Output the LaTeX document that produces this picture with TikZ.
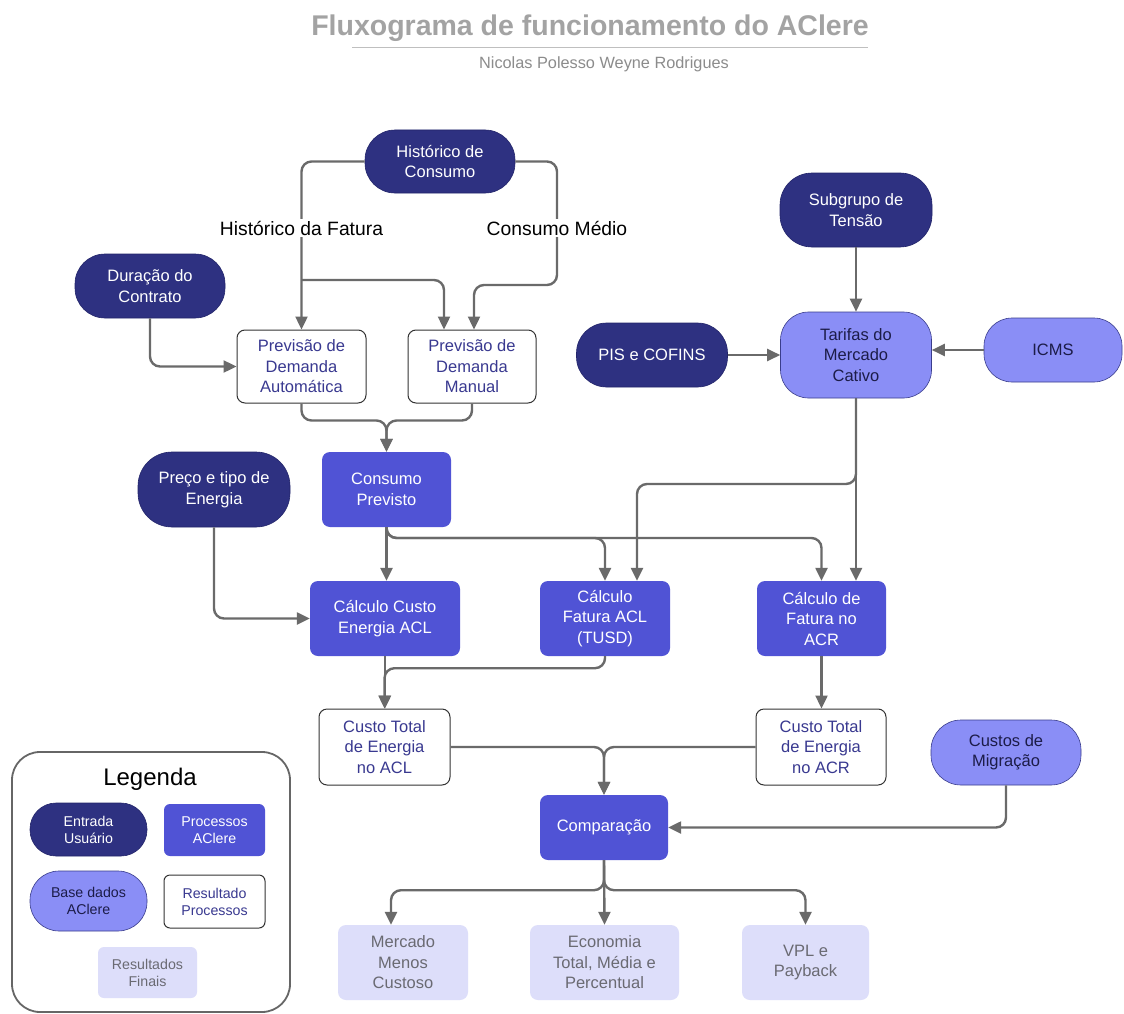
\documentclass[tikz,border=0pt]{standalone}
\usepackage{fontspec}
\setmainfont{Liberation Sans}
\usetikzlibrary{arrows.meta,calc}
\definecolor{navy}{HTML}{2E3181}
\definecolor{navyedge}{HTML}{23256A}
\definecolor{procblue}{HTML}{5053D5}
\definecolor{dbblue}{HTML}{8A8EF6}
\definecolor{dbedge}{HTML}{3A3D8C}
\definecolor{finfill}{HTML}{DDDEFA}
\definecolor{fintext}{HTML}{6A6A72}
\definecolor{arrgray}{HTML}{6A6A6A}
\definecolor{restext}{HTML}{393990}
\definecolor{dbtext}{HTML}{1C1C48}
\definecolor{titlegray}{HTML}{A3A3A3}
\definecolor{subgray}{HTML}{8C8C8C}
\begin{document}
\begin{tikzpicture}[x=1pt,y=-1pt,
  nodefont/.style={font=\fontsize{16.5}{20.5}\selectfont},
  inp/.style={nodefont, draw=navyedge, line width=0.6pt, fill=navy, text=white, rounded corners=#1, align=center, inner sep=0pt},
  inp/.default=30pt,
  proc/.style={nodefont, fill=procblue, text=white, rounded corners=8pt, align=center, inner sep=0pt},
  db/.style={nodefont, draw=dbedge, line width=0.6pt, fill=dbblue, text=dbtext, rounded corners=#1, align=center, inner sep=0pt},
  db/.default=28pt,
  res/.style={nodefont, draw=black!80, line width=1pt, fill=white, text=restext, rounded corners=8pt, align=center, inner sep=0pt},
  fin/.style={nodefont, fill=finfill, text=fintext, rounded corners=8pt, align=center, inner sep=0pt},
  legfont/.style={font=\fontsize{14.2}{17}\selectfont},
  arr/.style={draw=arrgray, line width=2.4pt, rounded corners=10pt, -{Triangle[length=13pt,width=12pt]}},
  lbl/.style={fill=white, text=black, inner sep=2pt, font=\fontsize{19.3}{22}\selectfont}
]
\useasboundingbox (0,0) rectangle (1124,1014);
\fill[white] (0,0) rectangle (1124,1014);

% title
\node[text=titlegray, font=\bfseries\fontsize{28.5}{32}\selectfont] (title) at (590,28) {Fluxograma de funcionamento do AClere};
\draw[draw=black!25, line width=1pt] (352,48) -- (868,48);
\node[text=subgray, font=\fontsize{16.3}{18}\selectfont] (subtitle) at (604,64) {Nicolas Polesso Weyne Rodrigues};

% input nodes
\node[inp, minimum width=150pt, minimum height=63pt] (hist) at (440,161.5) {Histórico de\\Consumo};
\node[inp=32pt, minimum width=152pt, minimum height=74pt] (subg) at (856,210) {Subgrupo de\\Tensão};
\node[inp, minimum width=150pt, minimum height=64pt] (dur) at (150,286) {Duração do\\Contrato};
\node[inp, minimum width=151pt, minimum height=64pt] (pis) at (652,355) {PIS e COFINS};
\node[inp=34pt, minimum width=152pt, minimum height=75pt] (preco) at (214,489.5) {Preço e tipo de\\Energia};

% database nodes
\node[db, minimum width=151pt, minimum height=86pt] (tarif) at (856,355) {Tarifas do\\Mercado\\Cativo};
\node[db, minimum width=138pt, minimum height=64pt] (icms) at (1053,350) {ICMS};
\node[db=30pt, minimum width=150pt, minimum height=65pt] (migr) at (1006,752.5) {Custos de\\Migração};

% result nodes
\node[res, minimum width=129pt, minimum height=73pt] (auto) at (301.5,366.5) {Previsão de\\Demanda\\Automática};
\node[res, minimum width=128pt, minimum height=73pt] (manual) at (472,366.5) {Previsão de\\Demanda\\Manual};
\node[res, minimum width=131pt, minimum height=76pt] (ctacl) at (384.5,747) {Custo Total\\de Energia\\no ACL};
\node[res, minimum width=130pt, minimum height=76pt] (ctacr) at (821,747) {Custo Total\\de Energia\\no ACR};

% process nodes
\node[proc, minimum width=129pt, minimum height=75pt] (cons) at (386.5,489.5) {Consumo\\Previsto};
\node[proc, minimum width=150pt, minimum height=75pt] (calce) at (385,618.5) {Cálculo Custo\\Energia ACL};
\node[proc, minimum width=130pt, minimum height=75pt] (tusd) at (605,618.5) {Cálculo\\Fatura ACL\\(TUSD)};
\node[proc, minimum width=129pt, minimum height=75pt] (acr) at (821.5,618.5) {Cálculo de\\Fatura no\\ACR};
\node[proc, minimum width=128pt, minimum height=65pt] (comp) at (604,827.5) {Comparação};

% final nodes
\node[fin, minimum width=130pt, minimum height=75pt] (merc) at (403,962.5) {Mercado\\Menos\\Custoso};
\node[fin, minimum width=149pt, minimum height=75pt] (econ) at (604.5,962.5) {Economia\\Total, Média e\\Percentual};
\node[fin, minimum width=127pt, minimum height=75pt] (vpl) at (805.5,962.5) {VPL e\\Payback};

% connectors
\coordinate (fork1) at (301.5,280);
\coordinate (cmturn) at (557,285);
\draw[arr] (hist.west) -| (auto.north);
\draw[arr] (fork1) -| ([xshift=-28pt]manual.north);
\draw[arr] (hist.east) -| (cmturn) -| ([xshift=2pt]manual.north);
\node[lbl] (lblfat) at (301.5,228) {Histórico da Fatura};
\node[lbl] (lblmed) at (557,228) {Consumo Médio};

\draw[arr] (dur.south) |- (auto.west);
\draw[arr] (auto.south) -- ++(0,17) -| (cons.north);
\draw[arr] (manual.south) -- ++(0,17) -| (cons.north);

\draw[arr] (subg.south) -- (tarif.north);
\draw[arr] (pis.east) -- (tarif.west);
\draw[arr] (icms.west) -- (icms.west -| tarif.east);

\coordinate (tj) at (856,484);
\draw[arr] (tarif.south) -- (tarif.south |- acr.north);
\draw[arr] (tarif.south) -- (tj) -| ([xshift=32pt]tusd.north);

\coordinate (cj) at (386.5,538);
\draw[arr] (cons.south) -- (cons.south |- calce.north);
\draw[arr] (cons.south) -- (cj) -| (tusd.north);
\draw[arr] (cons.south) -- (cj) -| (acr.north);

\draw[arr] (preco.south) |- (calce.west);

\draw[arr] (calce.south) -- (calce.south |- ctacl.north);
\draw[arr] (tusd.south) -- ++(0,12) -| (ctacl.north);
\draw[arr] (acr.south) -- (acr.south |- ctacr.north);

\draw[arr] (ctacl.east) -| (comp.north);
\draw[arr] (ctacr.west) -| (comp.north);
\draw[arr] (migr.south) |- (comp.east);

\draw[arr] (comp.south) -- ++(0,30) -| ([xshift=-12pt]merc.north);
\draw[arr] (comp.south) -- (econ.north);
\draw[arr] (comp.south) -- ++(0,30) -| (vpl.north);

% legend
\node[draw=black!60, line width=1.8pt, rounded corners=28pt, minimum width=278pt, minimum height=260pt, inner sep=0pt] (legend) at (151,882) {};
\node[font=\fontsize{24}{28}\selectfont] (legtitle) at (150,779) {Legenda};
\node[inp=26pt, legfont, minimum width=117pt, minimum height=53pt] (legent) at (88.5,829.5) {Entrada\\Usuário};
\node[proc, legfont, rounded corners=6pt, minimum width=101pt, minimum height=52pt] (legproc) at (214.5,830) {Processos\\AClere};
\node[db=29pt, legfont, minimum width=117pt, minimum height=60pt] (legdb) at (88.5,901) {Base dados\\AClere};
\node[res, legfont, rounded corners=6pt, minimum width=101pt, minimum height=53pt] (legres) at (214.5,901.5) {Resultado\\Processos};
\node[fin, legfont, rounded corners=6pt, minimum width=99pt, minimum height=51pt] (legfin) at (147.5,972.5) {Resultados\\Finais};
\end{tikzpicture}
\end{document}
